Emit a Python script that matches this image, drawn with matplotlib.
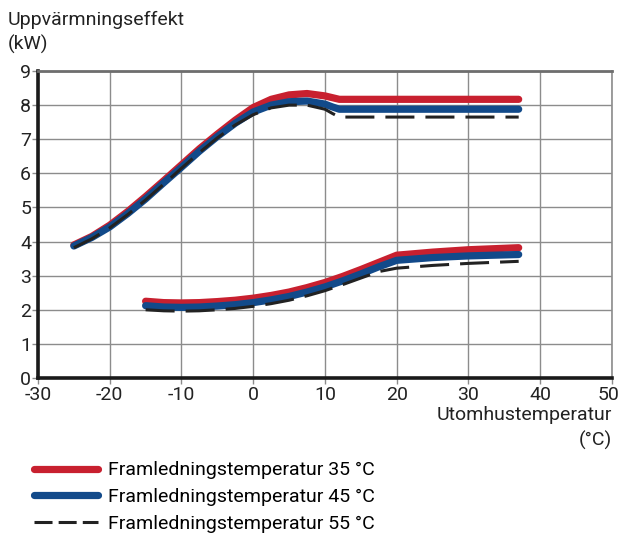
import matplotlib
matplotlib.use('Agg')
import matplotlib.pyplot as plt
import matplotlib.transforms as mtransforms
from matplotlib.lines import Line2D

plt.rcParams['font.family'] = ['Roboto', 'DejaVu Sans']
plt.rcParams['axes.unicode_minus'] = False

# upper curves (heating power at max)
x_up = [-25, -22.5, -20, -17.5, -15, -12.5, -10, -7.5, -5, -2.5, 0, 2.5, 5, 7.5, 10, 11, 12, 37]
red_up = [3.9, 4.15, 4.48, 4.88, 5.32, 5.78, 6.25, 6.72, 7.15, 7.56, 7.93, 8.17, 8.3, 8.34, 8.27, 8.22, 8.17, 8.17]
blue_up = [3.87, 4.12, 4.43, 4.82, 5.25, 5.72, 6.18, 6.65, 7.08, 7.47, 7.8, 8.0, 8.1, 8.12, 8.03, 7.95, 7.88, 7.88]
black_up = [3.82, 4.08, 4.4, 4.79, 5.22, 5.68, 6.15, 6.61, 7.04, 7.42, 7.72, 7.92, 8.0, 8.0, 7.88, 7.76, 7.65, 7.65]

# lower curves (heating power at min)
x_lo = [-15, -12.5, -10, -7.5, -5, -2.5, 0, 2.5, 5, 7.5, 10, 12.5, 15, 17.5, 20, 25, 30, 37]
red_lo = [2.25, 2.21, 2.2, 2.21, 2.24, 2.28, 2.34, 2.42, 2.52, 2.65, 2.8, 2.98, 3.18, 3.39, 3.6, 3.69, 3.76, 3.82]
blue_lo = [2.12, 2.08, 2.07, 2.08, 2.11, 2.15, 2.21, 2.29, 2.39, 2.52, 2.67, 2.85, 3.05, 3.26, 3.45, 3.53, 3.58, 3.62]
black_lo = [2.0, 1.97, 1.96, 1.97, 2.0, 2.04, 2.1, 2.18, 2.28, 2.41, 2.56, 2.74, 2.93, 3.12, 3.22, 3.3, 3.36, 3.42]

labels = ['Framledningstemperatur 35 °C',
          'Framledningstemperatur 45 °C',
          'Framledningstemperatur 55 °C']
xticks = list(range(-30, 60, 10))
xticklabels = [str(t) for t in xticks]
yticks = list(range(0, 10))

red = '#c8202f'
blue = '#124a8a'
black = '#222222'
fs = 14

fig = plt.figure(figsize=(6.2, 5.36), dpi=100)
ax = fig.add_axes([0.0613, 0.2948, 0.9257, 0.5727])

kw_solid = dict(lw=5.2, solid_capstyle='round', solid_joinstyle='round')
kw_dash = dict(lw=2.2, ls=(0, (9.5, 3.6)), dash_capstyle='butt')
ax.plot(x_up, red_up, color=red, zorder=3, **kw_solid)
ax.plot(x_lo, red_lo, color=red, zorder=3, **kw_solid)
ax.plot(x_up, blue_up, color=blue, zorder=4, **kw_solid)
ax.plot(x_lo, blue_lo, color=blue, zorder=4, **kw_solid)
ax.plot(x_up, black_up, color=black, zorder=5, **kw_dash)
ax.plot(x_lo, black_lo, color=black, zorder=5, **kw_dash)

ax.set_xlim(-30, 50)
ax.set_ylim(0, 9)
ax.set_xticks(xticks)
ax.set_xticklabels(xticklabels)
ax.set_yticks(yticks)
ax.grid(color='#8c8c8c', lw=1.0)
ax.set_axisbelow(True)
ax.tick_params(axis='both', labelsize=fs, color='#8c8c8c', length=4,
               width=1.0, labelcolor='#222222', pad=1)
ax.tick_params(axis='x', pad=2)
# keep the last x label inside the figure
last = ax.get_xticklabels()[-1]
last.set_horizontalalignment('right')
last.set_transform(last.get_transform() +
                   mtransforms.ScaledTranslation(8 / 100, 0, fig.dpi_scale_trans))

for s in ['left', 'bottom']:
    ax.spines[s].set_color('#1a1a1a')
    ax.spines[s].set_linewidth(2.6)
ax.spines['top'].set_color('#6e6e6e')
ax.spines['top'].set_linewidth(2.0)
ax.spines['right'].set_color('#8c8c8c')
ax.spines['right'].set_linewidth(1.2)

fig.text(0.013, 0.962, 'Uppvärmningseffekt', fontsize=fs, va='center', color='#222222')
fig.text(0.013, 0.917, '(kW)', fontsize=fs, va='center', color='#222222')
fig.text(0.987, 0.225, 'Utomhustemperatur', fontsize=fs, ha='right', va='center', color='#222222')
fig.text(0.987, 0.179, '(°C)', fontsize=fs, ha='right', va='center', color='#222222')

handles = [Line2D([], [], color=red, lw=5.2, solid_capstyle='round'),
           Line2D([], [], color=blue, lw=5.2, solid_capstyle='round'),
           Line2D([], [], color=black, lw=2.2, ls=(0, (5.9, 2.0)))]
fig.legend(handles, labels, loc='upper left', bbox_to_anchor=(0.055, 0.139),
           frameon=False, fontsize=fs, handlelength=3.3, handletextpad=0.5,
           labelspacing=0.45, borderpad=0, borderaxespad=0)

plt.savefig('out.png', dpi=100)
plt.close()
